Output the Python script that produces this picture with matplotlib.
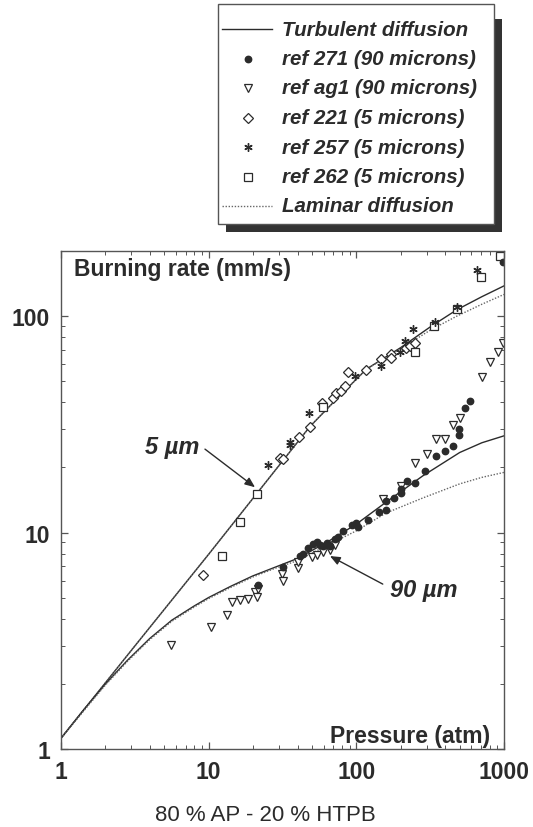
import numpy as np
import matplotlib
matplotlib.use("Agg")
import matplotlib.pyplot as plt
from matplotlib.patches import Rectangle
from matplotlib.lines import Line2D

# ---------------- data ----------------
# model curves: pressure (atm) -> burning rate (mm/s)
turb5_p = [1, 3.16, 10, 21.1, 48.5, 79.4, 117, 200, 316, 479, 708, 1000]
turb5_r = [1.12, 2.99, 7.94, 15.1, 30.9, 43.7, 56.9, 71.6, 89.1, 107, 123, 138]
lam5_p = [1, 3.16, 10, 21.1, 48.5, 79.4, 117, 200, 316, 479, 708, 1000]
lam5_r = [1.12, 2.99, 7.94, 15.1, 30.9, 43.7, 56.9, 70.8, 86.1, 100, 113.5, 126]

turb90_p = [1, 1.413, 1.995, 2.818, 3.981, 5.623, 7.943, 10, 14.13, 19.95, 28.18, 39.81,
            63.1, 100, 158.5, 281.8, 501.2, 707.9, 1000]
turb90_r = [1.122, 1.507, 1.995, 2.570, 3.236, 3.936, 4.571, 5.012, 5.649, 6.310, 6.918,
            7.586, 9.016, 10.94, 13.80, 18.28, 23.44, 26.00, 27.99]
lam90_p = [1, 1.413, 1.995, 2.818, 3.981, 5.623, 7.943, 10, 14.13, 19.95, 28.18, 39.81,
           63.1, 100, 158.5, 281.8, 501.2, 707.9, 1000]
lam90_r = [1.122, 1.49, 1.972, 2.541, 3.199, 3.890, 4.519, 4.955, 5.585, 6.237, 6.839,
           7.413, 8.710, 10.19, 12.30, 14.45, 16.79, 17.99, 18.97]

# experimental data
ref271_p = [21.7, 32, 41.5, 43.7, 47.3, 51.1, 53.8, 56.7, 59.7, 62.9, 66.3, 71.6, 75.5,
            81.5, 92.9, 100, 103, 120, 143, 160, 160, 180, 202, 202, 221, 249, 291, 349,
            398, 453, 498, 498, 543, 588, 988]
ref271_r = [5.74, 6.9, 7.82, 7.96, 8.45, 8.85, 9.01, 8.75, 8.69, 8.95, 8.63, 9.33, 9.50,
            10.2, 10.8, 11.1, 10.6, 11.4, 12.4, 12.7, 14.0, 14.4, 15.2, 15.9, 17.3, 16.9,
            19.3, 22.5, 23.9, 25.0, 28.2, 30.1, 37.8, 40.6, 178]

refag1_p = [5.6, 10.3, 13.3, 14.3, 16.2, 18.5, 20.6, 21.3, 21.6, 31.2, 32, 40.5, 40.5,
            49.8, 53.8, 59.7, 66.3, 71.6, 152, 202, 249, 299, 349, 398, 453, 503, 705,
            802, 914, 988]
refag1_r = [3.02, 3.67, 4.17, 4.80, 4.88, 4.95, 5.29, 5.02, 5.48, 6.43, 6.0, 6.83, 7.28,
            7.68, 7.87, 8.10, 8.33, 8.75, 14.3, 16.5, 20.9, 23.0, 27.0, 27.2, 31.4, 33.8,
            52.1, 61.1, 68.0, 75.5]

ref221_p = [9.1, 30.4, 32, 41.1, 48.5, 58.8, 69, 72.8, 78.2, 83.7, 88.2, 117, 146, 173,
            173, 217, 230, 249]
ref221_r = [6.4, 22.2, 21.9, 27.7, 30.8, 39.9, 41.7, 44.1, 45.2, 47.7, 55, 56.3, 63.3,
            66.7, 64.4, 71, 73, 75]

ref257_p = [25.3, 35.5, 35.5, 47.8, 97.8, 146, 197, 213, 241, 341, 482, 659]
ref257_r = [20.5, 26.1, 25.4, 35.5, 53, 59, 68, 76.9, 87.1, 94.2, 110, 164]

ref262_p = [12.4, 16.3, 21.1, 59.1, 249, 337, 482, 694, 945]
ref262_r = [7.82, 11.2, 15.1, 37.9, 68.4, 89.6, 108, 152, 190]

x_ticks = [1, 10, 100, 1000]
x_ticklabels = ["1", "10", "100", "1000"]
y_ticks = [1, 10, 100]
y_ticklabels = ["1", "10", "100"]

legend_labels = ["Turbulent diffusion", "ref 271 (90 microns)", "ref ag1 (90 microns)",
                 "ref 221 (5 microns)", "ref 257 (5 microns)", "ref 262 (5 microns)",
                 "Laminar diffusion"]

# ---------------- figure ----------------
W, H = 533, 828
fig = plt.figure(figsize=(W / 100, H / 100), dpi=100)
fig.patch.set_facecolor("white")


def fx(px):
    return px / W


def fy(py):
    return 1 - py / H


INK = "#2b2b2b"
BOLD = ["Liberation Sans", "DejaVu Sans"]
COND = ["Liberation Sans Narrow", "Liberation Sans", "DejaVu Sans"]

ax = fig.add_axes([fx(61), fy(750), fx(504) - fx(61), fy(252) - fy(750)])
ax.set_xscale("log")
ax.set_yscale("log")
ax.set_xlim(1, 1000)
ax.set_ylim(1, 200)

for s in ax.spines.values():
    s.set_color("#555555")
    s.set_linewidth(1.0)

ax.tick_params(which="both", direction="in", top=True, right=True, colors="#555555",
               labelcolor=INK)
ax.tick_params(which="major", length=5, width=0.9, pad=8)
ax.tick_params(which="minor", length=3, width=0.7)
ax.set_xticks(x_ticks)
ax.set_xticklabels(x_ticklabels)
ax.set_yticks(y_ticks)
ax.set_yticklabels(y_ticklabels)
for lab in ax.get_xticklabels() + ax.get_yticklabels():
    lab.set_fontfamily(BOLD)
    lab.set_fontweight("bold")
    lab.set_fontsize(16.5)

# curves
ax.plot(turb5_p, turb5_r, color=INK, lw=1.0)
ax.plot(lam5_p, lam5_r, color="#666666", lw=1.0, ls=(0, (1, 1.2)))
ax.plot(turb90_p, turb90_r, color=INK, lw=1.0)
ax.plot(lam90_p, lam90_r, color="#666666", lw=1.0, ls=(0, (1, 1.2)))

# markers
m271 = dict(marker="o", ms=4.6, mfc=INK, mec=INK, ls="none")
mag1 = dict(marker="v", ms=6, mfc="white", mec=INK, mew=0.9, ls="none")
m221 = dict(marker="D", ms=5, mfc="white", mec=INK, mew=0.9, ls="none")
m257 = dict(marker=(6, 2, 0), ms=6, mec=INK, mew=1.0, ls="none")
m262 = dict(marker="s", ms=5.5, mfc="white", mec=INK, mew=0.9, ls="none")

ax.plot(refag1_p, refag1_r, **mag1)
ax.plot(ref221_p, ref221_r, **m221)
ax.plot(ref262_p, ref262_r, **m262)
ax.plot(ref271_p, ref271_r, **m271)
ax.plot(ref257_p, ref257_r, **m257)

# in-axes labels
fig.text(fx(74), fy(276), "Burning rate (mm/s)", fontfamily=BOLD, fontweight="bold",
         fontsize=16.5, color=INK, ha="left", va="baseline")
fig.text(fx(490), fy(743), "Pressure (atm)", fontfamily=BOLD, fontweight="bold",
         fontsize=16.5, color=INK, ha="right", va="baseline")

# annotations
ax.text(8.6, 25, "5 \u00b5m", fontfamily=BOLD, fontweight="bold", style="italic",
        fontsize=17, color=INK, ha="right", va="center")
ax.annotate("", xy=(20.6, 16.2), xytext=(9.44, 24.3),
            arrowprops=dict(arrowstyle="-|>,head_length=0.6,head_width=0.25",
                            color=INK, lw=1.0, shrinkA=0, shrinkB=0))
ax.text(169, 5.48, "90 \u00b5m", fontfamily=BOLD, fontweight="bold", style="italic",
        fontsize=17, color=INK, ha="left", va="center")
ax.annotate("", xy=(66.3, 7.79), xytext=(151, 5.78),
            arrowprops=dict(arrowstyle="-|>,head_length=0.6,head_width=0.25",
                            color=INK, lw=1.0, shrinkA=0, shrinkB=0))

# subtitle
fig.text(fx(155), fy(816), "80 % AP - 20 % HTPB", fontfamily=BOLD, fontsize=16,
         color=INK, ha="left", va="center")

# ---------------- legend box (drawn manually) ----------------
bx0, by0, bx1, by1 = 218, 5, 494, 225
shadow = Rectangle((fx(bx0 + 8), fy(by1 + 8)), fx(bx1 - bx0), fy(by0 + 15) - fy(by1 + 8),
                   transform=fig.transFigure, facecolor="#333333", edgecolor="none",
                   zorder=1)
box = Rectangle((fx(bx0), fy(by1)), fx(bx1 - bx0), fy(by0) - fy(by1),
                transform=fig.transFigure, facecolor="white", edgecolor="#555555",
                lw=1.0, zorder=2)
fig.patches.extend([shadow, box])

handles = [
    dict(kind="line", style=dict(color=INK, lw=1.0)),
    dict(kind="mark", style=m271),
    dict(kind="mark", style=mag1),
    dict(kind="mark", style=m221),
    dict(kind="mark", style=m257),
    dict(kind="mark", style=m262),
    dict(kind="line", style=dict(color="#666666", lw=1.0, ls=(0, (1, 1.2)))),
]
for i, (h, lab) in enumerate(zip(handles, legend_labels)):
    yy = fy(30 + i * 29.5)
    if h["kind"] == "line":
        fig.add_artist(Line2D([fx(222), fx(272)], [yy, yy], transform=fig.transFigure,
                              zorder=3, **h["style"]))
    else:
        st = dict(h["style"])
        st.pop("ls", None)
        fig.add_artist(Line2D([fx(248)], [yy], transform=fig.transFigure, ls="none",
                              zorder=3, **st))
    fig.text(fx(282), yy, lab, fontfamily=COND, fontweight="bold", style="italic",
             fontsize=14.8, color=INK, ha="left", va="center", zorder=3)

fig.savefig("out.png", dpi=100, facecolor="white")
